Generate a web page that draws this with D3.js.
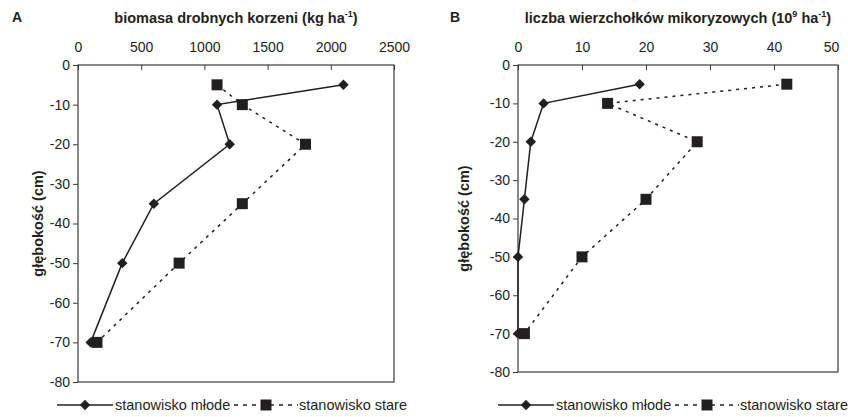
<!DOCTYPE html>
<html>
<head>
<meta charset="utf-8">
<script src="https://cdnjs.cloudflare.com/ajax/libs/d3/7.8.5/d3.min.js"></script>
<style>
  body { margin: 0; background: #fff; }
  text { font-family: "Liberation Sans", Arial, sans-serif; fill: #231f20; }
</style>
</head>
<body>
<div id="chart"></div>
<script>
// depth of samples (cm)
var depths = [-5, -10, -20, -35, -50, -70];

// A: biomasa drobnych korzeni (kg ha-1)
var biomasaMlode = [2100, 1100, 1200, 600, 350, 100];
var biomasaStare = [1100, 1300, 1800, 1300, 800, 150];

// B: liczba wierzcholkow mikoryzowych (10^9 ha-1)
var liczbaMlode = [19, 4, 2, 1, 0, 0];
var liczbaStare = [42, 14, 28, 20, 10, 1];

var xTicksA = [0, 500, 1000, 1500, 2000, 2500];
var xTicksB = [0, 10, 20, 30, 40, 50];
var yTicks = [0, -10, -20, -30, -40, -50, -60, -70, -80];

var seriesNames = ["stanowisko młode", "stanowisko stare"];

var w = 848, h = 417;
var ink = "#231f20";

var svg = d3.select("#chart").append("svg")
    .attr("width", w)
    .attr("height", h);

function drawPanel(opt) {
    var x = d3.scaleLinear().domain([0, opt.xMax]).range([opt.left, opt.right]);
    var y = d3.scaleLinear().domain([0, -80]).range([opt.top, opt.bottom]);

    var g = svg.append("g");

    // frame
    g.append("rect")
        .attr("x", opt.left)
        .attr("y", opt.top)
        .attr("width", opt.right - opt.left)
        .attr("height", opt.bottom - opt.top)
        .attr("fill", "none")
        .attr("stroke", "#3a3a3a")
        .attr("stroke-width", 1.2);

    // x axis on top, ticks pointing inside
    var xa = g.append("g")
        .attr("transform", "translate(0," + opt.top + ")")
        .call(d3.axisTop(x).tickValues(opt.xTicks).tickSize(-5).tickSizeOuter(0).tickPadding(13)
            .tickFormat(function (d) { return String(d); }));
    xa.select(".domain").remove();
    xa.selectAll("line").attr("stroke", "#3a3a3a");
    xa.selectAll("text").attr("font-size", 14).attr("fill", ink);
    // last label squeezed in to fit the page
    xa.selectAll("text").filter(function (d) { return d === opt.xMax; }).attr("dx", opt.lastDx || 0);

    // y axis
    var ya = g.append("g")
        .attr("transform", "translate(" + opt.left + ",0)")
        .call(d3.axisLeft(y).tickValues(yTicks).tickSize(5).tickSizeOuter(0).tickPadding(3)
            .tickFormat(function (d) { return String(d); }));
    ya.select(".domain").remove();
    ya.selectAll("line").attr("stroke", "#3a3a3a");
    ya.selectAll("text").attr("font-size", 14).attr("fill", ink);

    // panel letter
    g.append("text")
        .attr("x", opt.letterX)
        .attr("y", 22)
        .attr("font-size", 14)
        .attr("font-weight", "bold")
        .text(opt.letter);

    // title
    var title = g.append("text")
        .attr("x", (opt.left + opt.right) / 2)
        .attr("y", 23)
        .attr("text-anchor", "middle")
        .attr("font-size", 14.5)
        .attr("font-weight", "bold");
    opt.title.forEach(function (part) {
        var t = title.append("tspan").text(part.t);
        if (part.sup) {
            t.attr("font-size", 9).attr("dy", -6);
        } else if (part.after) {
            t.attr("dy", 6);
        }
    });

    // y label
    g.append("text")
        .attr("transform", "translate(" + opt.yLabelX + "," + ((opt.top + opt.bottom) / 2) + ")rotate(-90)")
        .attr("text-anchor", "middle")
        .attr("font-size", 14.5)
        .attr("font-weight", "bold")
        .text("głębokość (cm)");

    var line = d3.line()
        .x(function (d) { return x(d[0]); })
        .y(function (d) { return y(d[1]); });

    var mlode = opt.mlode.map(function (v, i) { return [v, depths[i]]; });
    var stare = opt.stare.map(function (v, i) { return [v, depths[i]]; });

    g.append("path")
        .attr("d", line(stare))
        .attr("fill", "none")
        .attr("stroke", ink)
        .attr("stroke-width", 1.5)
        .attr("stroke-dasharray", "3,5");

    g.append("path")
        .attr("d", line(mlode))
        .attr("fill", "none")
        .attr("stroke", ink)
        .attr("stroke-width", 1.5);

    g.selectAll(".sq")
        .data(stare)
        .enter().append("rect")
        .attr("x", function (d) { return x(d[0]) - 5.5; })
        .attr("y", function (d) { return y(d[1]) - 5.5; })
        .attr("width", 11)
        .attr("height", 11)
        .attr("fill", ink);

    g.selectAll(".dm")
        .data(mlode)
        .enter().append("path")
        .attr("d", d3.symbol().type(d3.symbolDiamond2).size(70))
        .attr("transform", function (d) { return "translate(" + x(d[0]) + "," + y(d[1]) + ")"; })
        .attr("fill", ink);

    // legend
    var ly = opt.legendY, lx = opt.legendX;
    var lg = g.append("g");
    lg.append("line")
        .attr("x1", lx).attr("x2", lx + 56)
        .attr("y1", ly).attr("y2", ly)
        .attr("stroke", ink).attr("stroke-width", 1.5);
    lg.append("path")
        .attr("d", d3.symbol().type(d3.symbolDiamond2).size(70))
        .attr("transform", "translate(" + (lx + 28) + "," + ly + ")")
        .attr("fill", ink);
    lg.append("text")
        .attr("x", lx + 58)
        .attr("y", ly + 5)
        .attr("font-size", 14.5)
        .text(seriesNames[0]);

    var dx = lx + 177;
    lg.append("line")
        .attr("x1", dx).attr("x2", dx + 64)
        .attr("y1", ly).attr("y2", ly)
        .attr("stroke", ink).attr("stroke-width", 1.5)
        .attr("stroke-dasharray", "4,5");
    lg.append("rect")
        .attr("x", dx + 32 - 5.5)
        .attr("y", ly - 5.5)
        .attr("width", 11).attr("height", 11)
        .attr("fill", ink);
    lg.append("text")
        .attr("x", dx + 65)
        .attr("y", ly + 5)
        .attr("font-size", 14.5)
        .text(seriesNames[1]);
}

drawPanel({
    letter: "A", letterX: 12,
    left: 78, right: 394, top: 65, bottom: 382,
    xMax: 2500, xTicks: xTicksA,
    title: [{t: "biomasa drobnych korzeni (kg ha"}, {t: "-1", sup: true}, {t: ")", after: true}],
    yLabelX: 43,
    mlode: biomasaMlode, stare: biomasaStare,
    legendX: 57, legendY: 405
});

drawPanel({
    letter: "B", letterX: 450,
    left: 518, right: 838, top: 65, bottom: 372,
    xMax: 50, xTicks: xTicksB, lastDx: -7,
    title: [{t: "liczba wierzchołków mikoryzowych (10"}, {t: "9", sup: true}, {t: " ha", after: true},
            {t: "-1", sup: true}, {t: ")", after: true}],
    yLabelX: 469,
    mlode: liczbaMlode, stare: liczbaStare,
    legendX: 498, legendY: 405
});
</script>
</body>
</html>
